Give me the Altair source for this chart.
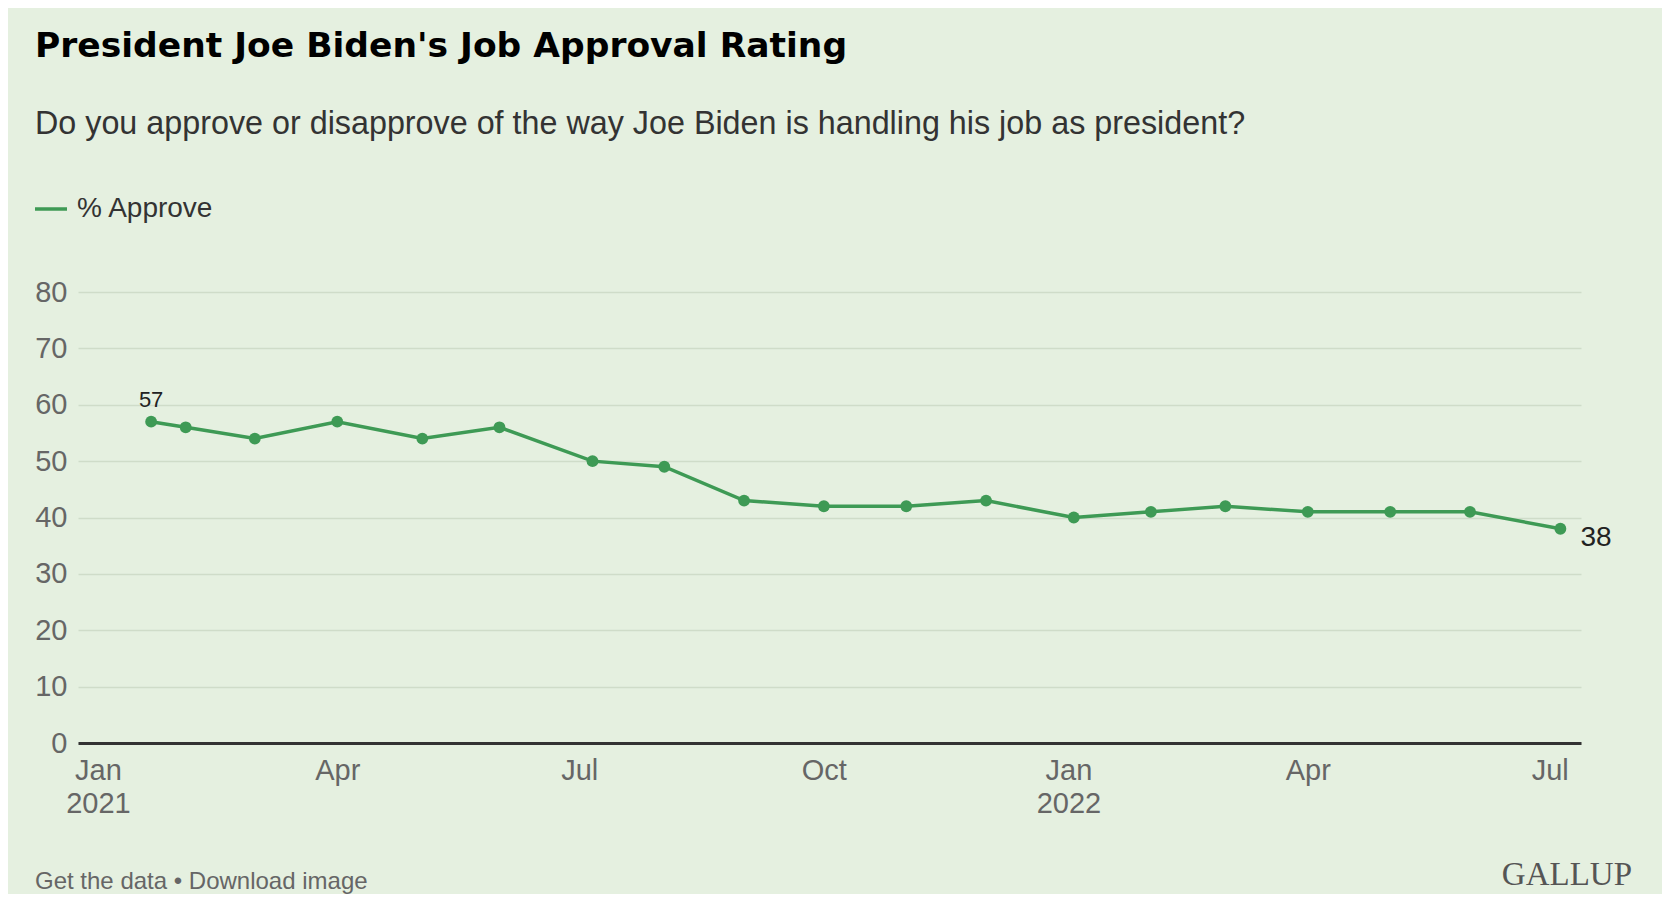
import altair as alt
import pandas as pd

# ---- data ----
poll_dates = ["2021-01-21", "2021-02-03", "2021-03-01", "2021-04-01", "2021-05-03",
              "2021-06-01", "2021-07-06", "2021-08-02", "2021-09-01", "2021-10-01",
              "2021-11-01", "2021-12-01", "2022-01-03", "2022-02-01", "2022-03-01",
              "2022-04-01", "2022-05-02", "2022-06-01", "2022-07-05"]
approve = [57, 56, 54, 57, 54, 56, 50, 49, 43, 42, 42, 43, 40, 41, 42, 41, 41, 41, 38]
series_name = "% Approve"
y_ticks = [0, 10, 20, 30, 40, 50, 60, 70, 80]

title_text = "President Joe Biden's Job Approval Rating"
subtitle_text = "Do you approve or disapprove of the way Joe Biden is handling his job as president?"
footer_text = "Get the data \u2022 Download image"
brand_text = "GALLUP"

GREEN = "#3e9a55"
BG = "#e5f0e0"
FONT = "Liberation Sans"

df = pd.DataFrame({"date": poll_dates, "value": approve, "series": series_name})
first_df = df.iloc[[0]]
last_df = df.iloc[[-1]]

tick_vals = [alt.DateTime(year=y, month=m, date=1, utc=True)
             for (y, m) in [(2021, 1), (2021, 4), (2021, 7), (2021, 10), (2022, 1), (2022, 4), (2022, 7)]]

x_enc = alt.X("date:T",
              scale=alt.Scale(type="utc", domain=["2020-12-24T12:00:00Z", "2022-07-12T18:00:00Z"]),
              axis=alt.Axis(values=tick_vals, title=None, grid=False, ticks=False,
                            domain=True, domainColor="#333333", domainWidth=3,
                            labelExpr="utcmonth(datum.value) == 0 ? [utcFormat(datum.value, '%b'), utcFormat(datum.value, '%Y')] : utcFormat(datum.value, '%b')",
                            labelFont=FONT, labelFontSize=29, labelColor="#666666",
                            labelPadding=13, labelLineHeight=33, labelBaseline="top",
                            labelFlush=False, labelOverlap=False))
y_enc = alt.Y("value:Q",
              scale=alt.Scale(domain=[0, 80], nice=False, zero=True),
              axis=alt.Axis(values=y_ticks, title=None, grid=True, gridColor="#cfdcc9",
                            gridWidth=1.5, ticks=False, domain=False,
                            labelFont=FONT, labelFontSize=29, labelColor="#666666",
                            labelPadding=11))

base = alt.Chart(df)

line = base.mark_line(strokeWidth=3.5).encode(
    x=x_enc, y=y_enc,
    color=alt.Color("series:N", scale=alt.Scale(range=[GREEN]),
                    legend=alt.Legend(title=None, orient="none", legendX=-45, legendY=-101,
                                      symbolType="stroke", symbolStrokeWidth=3.5,
                                      symbolSize=1024, labelFont=FONT, labelFontSize=28,
                                      labelColor="#333333", labelOffset=8))
)
points = base.mark_circle(size=140, opacity=1, color=GREEN).encode(x="date:T", y="value:Q")

lab_first = alt.Chart(first_df).mark_text(font=FONT, fontSize=22, color="#222222",
                                          baseline="alphabetic", align="center", dy=-15).encode(
    x="date:T", y="value:Q", text="value:Q")
lab_last = alt.Chart(last_df).mark_text(font=FONT, fontSize=28, color="#222222",
                                        baseline="middle", align="left", dx=20, dy=9).encode(
    x="date:T", y="value:Q", text="value:Q")

def label(text, x, y, size, color, weight="normal", align="left", font=FONT):
    return alt.Chart(pd.DataFrame({"t": [text]})).mark_text(
        font=font, fontSize=size, color=color, fontWeight=weight, align=align,
        baseline="alphabetic").encode(x=alt.value(x), y=alt.value(y), text="t:N")

title = label(title_text, -43, -235, 34.5, "#000000", weight="bold", font="DejaVu Sans")
subtitle = label(subtitle_text, -43, -158, 32.3, "#333333")
footer = label(footer_text, -43, 597, 24, "#666666")
brand = label(brand_text, 1554, 593, 33, "#555555", align="right", font="Liberation Serif")

chart = alt.layer(line, points, lab_first, lab_last, title, subtitle, footer, brand).properties(
    width=1503, height=451,
    autosize=alt.AutoSizeParams(type="none"),
    padding={"left": 70, "top": 284, "right": 81, "bottom": 151},
    background=BG,
).configure_view(stroke=None)

chart.save("out.html", embed_options={"renderer": "svg", "actions": False})
